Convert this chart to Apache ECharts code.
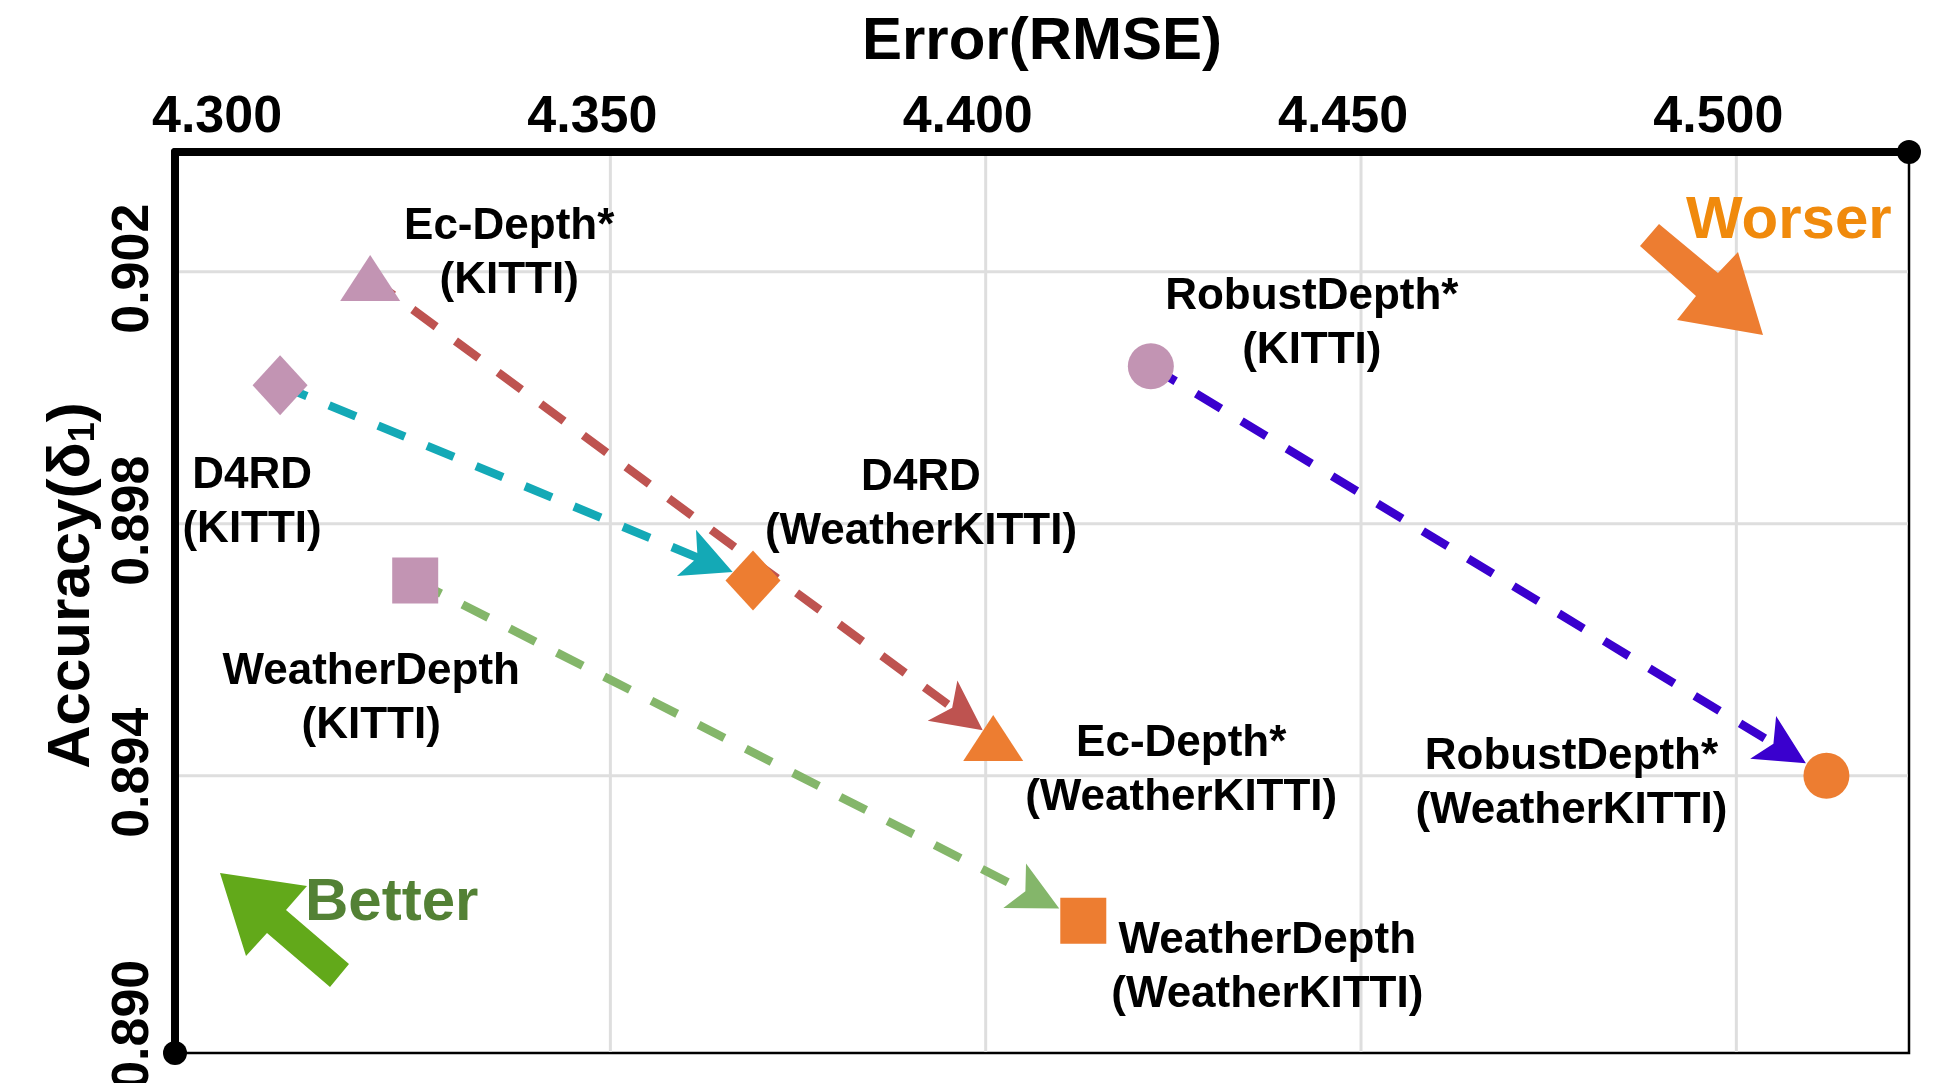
<!DOCTYPE html>
<html>
<head>
    <meta charset="utf-8">
    <title>Error(RMSE) vs Accuracy</title>
    <script src="https://cdn.jsdelivr.net/npm/echarts@6/dist/echarts.min.js"></script>
    <style>
        html, body, #main {
            width: 100%;
            height: 100%;
            margin: 0;
            padding: 0;
            background: #fff;
        }
    </style>
</head>
<body>
<div id="main"></div>
<script type="text/javascript">
    // data
    var methods = ['Ec-Depth*', 'D4RD', 'WeatherDepth', 'RobustDepth*'];
    var kittiRmse = [4.318, 4.306, 4.324, 4.422];
    var kittiAcc = [0.9019, 0.9002, 0.8971, 0.9005];
    var weatherRmse = [4.401, 4.369, 4.413, 4.512];
    var weatherAcc = [0.8946, 0.8971, 0.8917, 0.8940];

    var xTickLabels = ['4.300', '4.350', '4.400', '4.450', '4.500'];
    var yTickLabels = ['0.890', '0.894', '0.898', '0.902'];
    var xGridValues = [4.35, 4.40, 4.45, 4.50];
    var yGridValues = [0.894, 0.898, 0.902];

    var X_MIN = 4.292, X_MAX = 4.523;
    var Y_MIN = 0.8896, Y_MAX = 0.9039;

    // styles
    var FONT = '"Liberation Sans", Arial, Helvetica, sans-serif';
    var KITTI_COLOR = '#C294B3';
    var WEATHER_COLOR = '#ED7D31';
    var GRID_COLOR = '#dedede';
    var symbols = ['triangle', 'diamond', 'rect', 'circle'];
    var symbolSizes = [[60, 46], [55, 60], [46, 46], [46, 46]];
    var arrowColors = ['#BE5350', '#14A9B6', '#84B66A', '#3A00CE'];
    var arrowTipGap = [13, 22, 27, 24];
    var HEAD_LEN = 50, HEAD_HALF = 25, HEAD_NOTCH = 12;
    var kittiLabelOffset = [[139, -24], [-28, 118], [-44, 118], [161, -42]];
    var weatherLabelOffset = [[188, 33], [168, -76], [184, 47], [-255, 8]];

    // decoration arrows (pixels)
    var betterArrow = [[220, 873], [307, 886], [286, 910], [349, 964], [330, 987], [267, 933], [246, 956]];
    var worserArrow = [[1659, 224], [1718, 273], [1738, 252], [1763, 335], [1677, 320], [1696, 296], [1640, 246]];

    var myChart = echarts.init(document.getElementById('main'));

    function pickLabel(list) {
        return function (v) {
            var s = Number(v).toFixed(3);
            return list.indexOf(s) >= 0 ? s : '';
        };
    }

    function pointSeries(name, xs, ys, color, suffix, offsets) {
        return {
            type: 'scatter',
            name: name,
            z: 4,
            silent: true,
            itemStyle: {color: color, opacity: 1},
            label: {
                show: true,
                position: 'inside',
                color: '#000',
                textBorderWidth: 0,
                fontFamily: FONT,
                fontWeight: 'bold',
                fontSize: 44,
                lineHeight: 54,
                align: 'center',
                verticalAlign: 'middle'
            },
            data: methods.map(function (m, i) {
                return {
                    value: [xs[i], ys[i]],
                    symbol: symbols[i],
                    symbolSize: symbolSizes[i],
                    label: {offset: offsets[i], formatter: m + '\n(' + suffix + ')'}
                };
            })
        };
    }

    function gridSeries(vertical) {
        var values = vertical ? xGridValues : yGridValues;
        return {
            type: 'custom',
            z: 1,
            silent: true,
            data: values.map(function (v) {
                return vertical ? [v, Y_MIN] : [X_MIN, v];
            }),
            renderItem: function (params, api) {
                var p = api.coord([api.value(0), api.value(1)]);
                var cs = params.coordSys;
                var shape = vertical
                    ? {x1: p[0], y1: cs.y + 4, x2: p[0], y2: cs.y + cs.height - 1}
                    : {x1: cs.x + 4, y1: p[1], x2: cs.x + cs.width - 1, y2: p[1]};
                return {type: 'line', shape: shape, style: {stroke: GRID_COLOR, lineWidth: 3}};
            }
        };
    }

    var arrowSeries = {
        type: 'custom',
        z: 3,
        silent: true,
        clip: false,
        encode: {x: [0, 2], y: [1, 3]},
        data: methods.map(function (m, i) {
            return [kittiRmse[i], kittiAcc[i], weatherRmse[i], weatherAcc[i], i];
        }),
        renderItem: function (params, api) {
            var i = api.value(4);
            var color = arrowColors[i];
            var s = api.coord([api.value(0), api.value(1)]);
            var e = api.coord([api.value(2), api.value(3)]);
            var dx = e[0] - s[0], dy = e[1] - s[1];
            var len = Math.sqrt(dx * dx + dy * dy);
            var ux = dx / len, uy = dy / len, nx = -uy, ny = ux;
            var tip = [e[0] - ux * arrowTipGap[i], e[1] - uy * arrowTipGap[i]];
            var back = [tip[0] - ux * HEAD_LEN, tip[1] - uy * HEAD_LEN];
            var notch = [back[0] + ux * HEAD_NOTCH, back[1] + uy * HEAD_NOTCH];
            return {
                type: 'group',
                children: [
                    {
                        type: 'line',
                        shape: {x1: s[0], y1: s[1], x2: notch[0] + ux * 2, y2: notch[1] + uy * 2},
                        style: {stroke: color, lineWidth: 8.5, lineDash: [29, 24], lineCap: 'butt'}
                    },
                    {
                        type: 'polygon',
                        shape: {
                            points: [
                                tip,
                                [back[0] + nx * HEAD_HALF, back[1] + ny * HEAD_HALF],
                                notch,
                                [back[0] - nx * HEAD_HALF, back[1] - ny * HEAD_HALF]
                            ]
                        },
                        style: {fill: color}
                    }
                ]
            };
        }
    };

    var tickFont = {color: '#000', fontFamily: FONT, fontWeight: 'bold', fontSize: 52};

    myChart.setOption({
        animation: false,
        backgroundColor: '#fff',
        grid: {
            left: 175,
            top: 152,
            right: 29,
            bottom: 30,
            show: true,
            borderColor: '#000',
            borderWidth: 2.5,
            backgroundColor: 'transparent',
            containLabel: false,
            outerBoundsMode: 'none'
        },
        xAxis: {
            type: 'value',
            position: 'top',
            min: X_MIN,
            max: X_MAX,
            splitNumber: 5,
            name: 'Error(RMSE)',
            nameLocation: 'middle',
            nameGap: 80,
            nameMoveOverlap: false,
            nameTextStyle: {color: '#000', fontFamily: FONT, fontWeight: 'bold', fontSize: 60},
            axisLine: {
                show: true,
                onZero: false,
                symbol: ['none', 'circle'],
                symbolSize: [24, 24],
                lineStyle: {color: '#000', width: 8}
            },
            axisTick: {show: false},
            splitLine: {show: false},
            axisLabel: Object.assign({
                margin: 8,
                padding: [0, 36, 0, 0],
                formatter: pickLabel(xTickLabels)
            }, tickFont)
        },
        yAxis: {
            type: 'value',
            min: Y_MIN,
            max: Y_MAX,
            splitNumber: 7,
            name: 'Accuracy(δ{s|1})',
            nameLocation: 'middle',
            nameGap: 73,
            nameMoveOverlap: false,
            nameTextStyle: {
                color: '#000',
                fontFamily: FONT,
                fontWeight: 'bold',
                fontSize: 60,
                lineHeight: 60,
                padding: [0, 0, 0, 34],
                rich: {
                    s: {
                        color: '#000',
                        fontFamily: FONT,
                        fontWeight: 'bold',
                        fontSize: 36,
                        lineHeight: 14,
                        verticalAlign: 'bottom'
                    }
                }
            },
            axisLine: {
                show: true,
                onZero: false,
                symbol: ['circle', 'none'],
                symbolSize: [24, 24],
                lineStyle: {color: '#000', width: 8}
            },
            axisTick: {show: false},
            splitLine: {show: false},
            axisLabel: Object.assign({
                rotate: 90,
                margin: 15,
                padding: [0, 0, 0, 6],
                formatter: pickLabel(yTickLabels)
            }, tickFont)
        },
        graphic: [
            {type: 'polygon', z: 20, silent: true, shape: {points: betterArrow}, style: {fill: '#62A91A'}},
            {
                type: 'text', z: 20, silent: true, x: 305, y: 903,
                style: {text: 'Better', fill: '#538135', font: 'bold 60px ' + FONT, align: 'left', verticalAlign: 'middle'}
            },
            {type: 'polygon', z: 20, silent: true, shape: {points: worserArrow}, style: {fill: '#ED7D31'}},
            {
                type: 'text', z: 20, silent: true, x: 1686, y: 221,
                style: {text: 'Worser', fill: '#F08A0C', font: 'bold 60px ' + FONT, align: 'left', verticalAlign: 'middle'}
            }
        ],
        series: [
            gridSeries(true),
            gridSeries(false),
            arrowSeries,
            pointSeries('KITTI', kittiRmse, kittiAcc, KITTI_COLOR, 'KITTI', kittiLabelOffset),
            pointSeries('WeatherKITTI', weatherRmse, weatherAcc, WEATHER_COLOR, 'WeatherKITTI', weatherLabelOffset)
        ]
    });

    window.onresize = function () {
        myChart.resize();
    };
</script>
</body>
</html>
